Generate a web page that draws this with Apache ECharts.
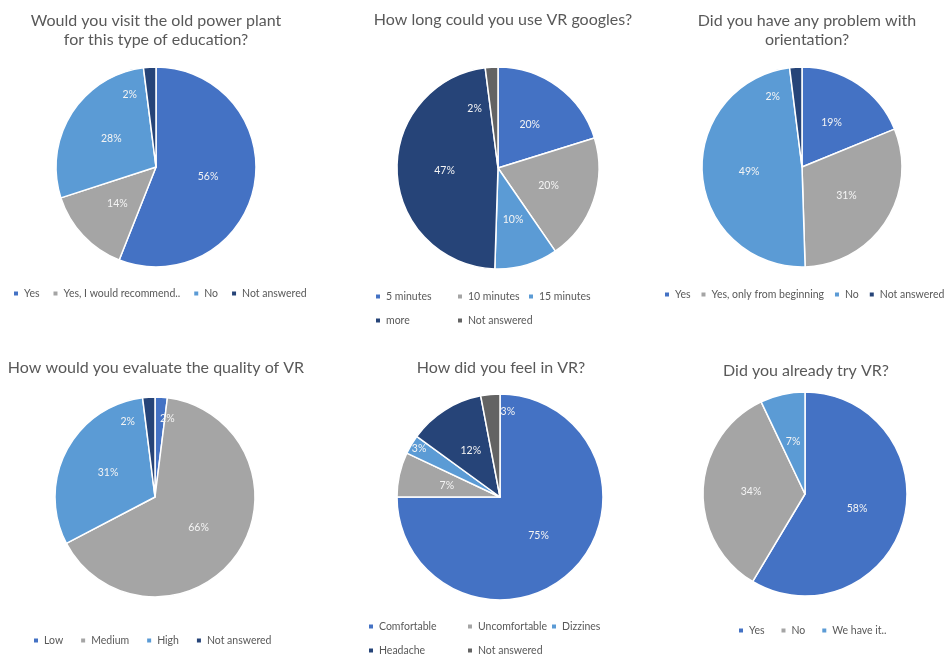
<!DOCTYPE html>
<html><head><meta charset="utf-8">
<script src="https://cdn.jsdelivr.net/npm/echarts@6/dist/echarts.min.js"></script>
<style>html,body{margin:0;padding:0;background:#fff}#c{width:949px;height:659px}</style>
</head><body><div id="c"></div>
<script>
// ---- data ----
const visitCategories = ['Yes', 'Yes, I would recommend..', 'No', 'Not answered'];
const visitValues = [56, 14, 28, 2];
const durationCategories = ['5 minutes', '10 minutes', '15 minutes', 'more', 'Not answered'];
const durationValues = [20, 20, 10, 47, 2];
const orientationCategories = ['Yes', 'Yes, only from beginning', 'No', 'Not answered'];
const orientationValues = [19, 31, 49, 2];
const qualityCategories = ['Low', 'Medium', 'High', 'Not answered'];
const qualityValues = [2, 66, 31, 2];
const feelCategories = ['Comfortable', 'Uncomfortable', 'Dizzines', 'Headache', 'Not answered'];
const feelValues = [75, 7, 3, 12, 3];
const triedCategories = ['Yes', 'No', 'We have it..'];
const triedValues = [58, 34, 7];
const chartTitles = [
  ['Would you visit the old power plant', 'for this type of education?'],
  ['How long could you use VR googles?'],
  ['Did you have any problem with', 'orientation?'],
  ['How would you evaluate the quality of VR'],
  ['How did you feel in VR?'],
  ['Did you already try VR?']
];

// ---- style ----
const BLUE = '#4472C4', GRAY = '#A5A5A5', LBLUE = '#5B9BD5', NAVY = '#264478', DGRAY = '#636363';
const FONT = 'Lato, "Open Sans", sans-serif';
const TEXT = '#595959';

// legend rows: [left, centerY, itemGap, [item indices]]
const charts = [
  { cats: visitCategories, vals: visitValues, colors: [BLUE, GRAY, LBLUE, NAVY],
    center: [156, 167], r: 100, titleX: 156, titleY: [21, 40],
    rows: [[12, 295, 12, [0, 1, 2, 3]]],
    shift: { 3: [-23, -19] } },
  { cats: durationCategories, vals: durationValues, colors: [BLUE, GRAY, LBLUE, NAVY, DGRAY],
    center: [498, 168], r: 101, titleX: 503, titleY: [20],
    rows: [[374, 298, 0, [0]], [456, 298, 0, [1]], [527, 298, 0, [2]], [374, 322, 0, [3]], [456, 322, 0, [4]]],
    shift: { 4: [-20, -6] } },
  { cats: orientationCategories, vals: orientationValues, colors: [BLUE, GRAY, LBLUE, NAVY],
    center: [802, 167], r: 100, titleX: 807, titleY: [21, 40],
    rows: [[663, 296, 9, [0, 1, 2, 3]]],
    shift: { 3: [-26, -17] } },
  { cats: qualityCategories, vals: qualityValues, colors: [BLUE, GRAY, LBLUE, NAVY],
    center: [155, 497], r: 100, titleX: 156, titleY: [368],
    rows: [[32, 642, 16, [0, 1, 2, 3]]],
    shift: { 0: [9, -25], 3: [-24, -22] } },
  { cats: feelCategories, vals: feelValues, colors: [BLUE, GRAY, LBLUE, NAVY, DGRAY],
    center: [500, 497], r: 103, titleX: 501, titleY: [368],
    rows: [[367, 628, 0, [0]], [466, 628, 0, [1]], [550, 628, 0, [2]], [367, 652, 0, [3]], [466, 652, 0, [4]]],
    shift: { 2: [-34, -21], 4: [13, -31] } },
  { cats: triedCategories, vals: triedValues, colors: [BLUE, GRAY, LBLUE],
    center: [805, 494], r: 102, titleX: 806, titleY: [371],
    rows: [[737, 632, 15, [0, 1, 2]]],
    shift: {} }
];

const series = [], legends = [], graphics = [];
charts.forEach((c, ci) => {
  series.push({
    type: 'pie',
    center: c.center,
    radius: c.r,
    startAngle: 90,
    clockwise: true,
    avoidLabelOverlap: false,
    animation: false,
    silent: true,
    data: c.cats.map((n, i) => ({ name: n, value: c.vals[i], itemStyle: { color: c.colors[i] } })),
    itemStyle: { borderColor: '#ffffff', borderWidth: 1.5 },
    label: { show: true, position: 'inside', formatter: '{c}%', color: '#f4f4f4', fontSize: 10.5, fontFamily: FONT },
    labelLine: { show: false },
    emphasis: { disabled: true },
    labelLayout: function (p) {
      const s = c.shift[p.dataIndex];
      return s ? { dx: s[0], dy: s[1] } : {};
    }
  });
  c.rows.forEach(row => {
    legends.push({
      left: row[0], top: row[1] - 7,
      padding: 0, itemWidth: 6, itemHeight: 6, itemGap: row[2], icon: 'rect', selectedMode: false,
      data: row[3].map(i => ({ name: c.cats[i], itemStyle: { color: c.colors[i] } })),
      textStyle: { fontSize: 10.5, color: TEXT, fontFamily: FONT }
    });
  });
  c.titleY.forEach((y, li) => {
    graphics.push({
      type: 'text', x: c.titleX, y: y,
      style: { text: chartTitles[ci][li], fill: TEXT, font: '16px ' + FONT, align: 'center', verticalAlign: 'middle' }
    });
  });
});

const chart = echarts.init(document.getElementById('c'), null, { renderer: 'canvas' });
chart.setOption({
  backgroundColor: '#ffffff',
  animation: false,
  legend: legends,
  graphic: graphics,
  series: series
});
</script>
</body></html>
